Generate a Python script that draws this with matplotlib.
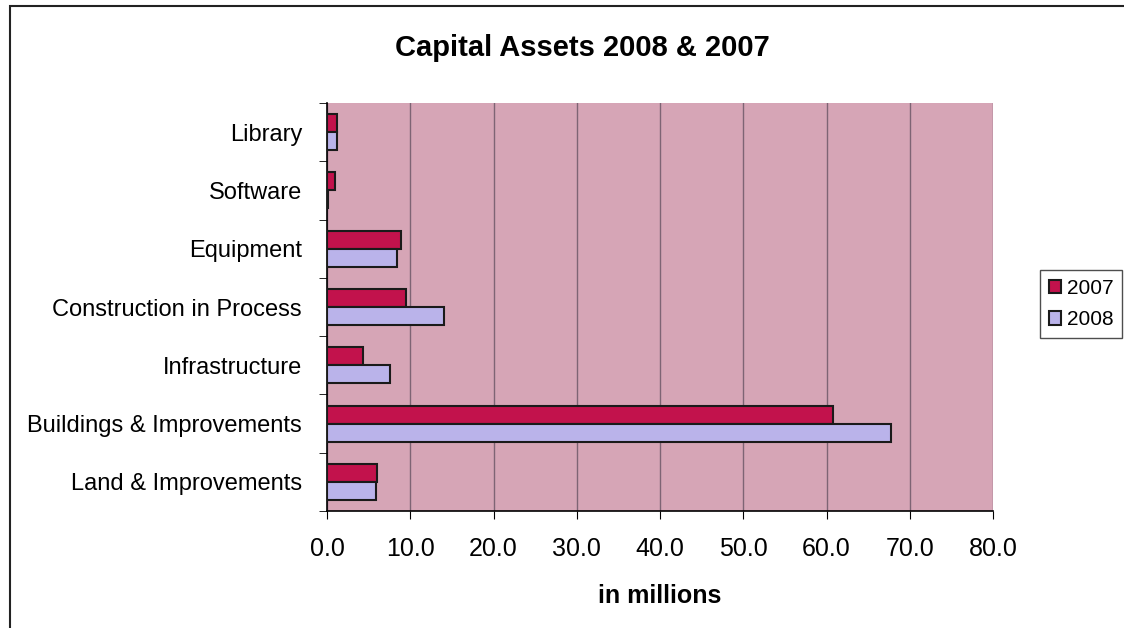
import numpy as np
import matplotlib
matplotlib.use('Agg')
import matplotlib.pyplot as plt
from matplotlib.patches import Rectangle

categories = ['Land & Improvements', 'Buildings & Improvements', 'Infrastructure',
              'Construction in Process', 'Equipment', 'Software', 'Library']
vals_2007 = [6.0, 60.8, 4.3, 9.5, 8.9, 1.0, 1.2]
vals_2008 = [5.9, 67.7, 7.6, 14.0, 8.4, 0.1, 1.2]
xticks = [0, 10, 20, 30, 40, 50, 60, 70, 80]

plt.rcParams['font.family'] = ['Liberation Sans', 'DejaVu Sans']

fig = plt.figure(figsize=(11.24, 6.28), dpi=100)
ax = fig.add_axes([327/1124, 1 - 511/628, 666/1124, 408/628])
ax.set_facecolor('#d6a5b6')

y = np.arange(len(categories))
h = 0.31
ax.barh(y + h/2, vals_2007, height=h, color='#c2124c', edgecolor='#1a1a1a', linewidth=1.5,
        label='2007', zorder=3)
ax.barh(y - h/2, vals_2008, height=h, color='#bab3ea', edgecolor='#1a1a1a', linewidth=1.5,
        label='2008', zorder=3)

ax.set_xlim(0, 80)
ax.set_ylim(-0.5, len(categories) - 0.5)
ax.set_xticks(xticks)
ax.set_xticklabels([f'{v:.1f}' for v in xticks], fontsize=18)
ax.set_yticks(y)
ax.set_yticklabels(categories, fontsize=17)
ax.tick_params(axis='y', length=0, pad=18)
ax.set_yticks(np.arange(-0.5, len(categories)), minor=True)
ax.tick_params(axis='y', which='minor', length=6, direction='out')
ax.tick_params(axis='x', length=6, direction='out', pad=13)
ax.xaxis.grid(True, color='#7e6474', linewidth=1.0, zorder=1)
for s in ['top', 'right']:
    ax.spines[s].set_visible(False)
ax.spines['left'].set_linewidth(1.2)
ax.spines['bottom'].set_linewidth(1.2)

ax.set_xlabel('in millions', fontsize=18, fontweight='bold', labelpad=16)
fig.text(0.518, 1 - 48/628, 'Capital Assets 2008 & 2007', ha='center', va='center',
         fontsize=21, fontweight='bold')

leg = fig.legend(loc='center left', bbox_to_anchor=(1036/1124, 1 - 304/628), fontsize=15,
                 frameon=True, fancybox=False, edgecolor='#222222', handlelength=0.6,
                 handleheight=0.6, handletextpad=0.3, borderpad=0.4, labelspacing=0.6,
                 borderaxespad=0.2)
leg.get_frame().set_linewidth(1.0)

# outer chart border
fig.patches.append(Rectangle((10/1124, -0.01), 1.1, 1 - 6/628 + 0.01, transform=fig.transFigure,
                             fill=False, edgecolor='#222222', linewidth=1.5))

fig.savefig('out.png', dpi=100)
